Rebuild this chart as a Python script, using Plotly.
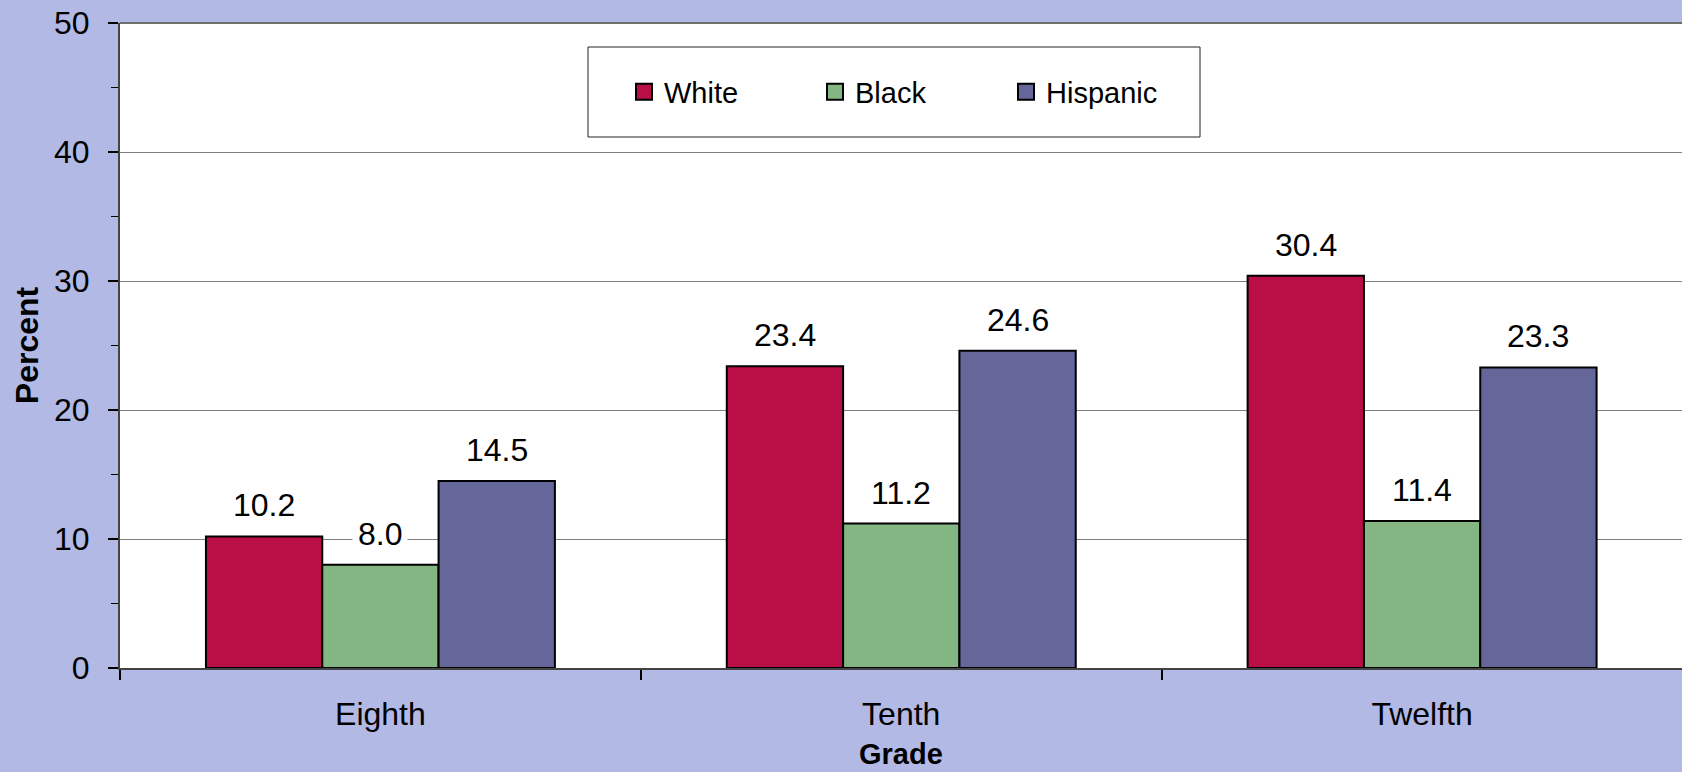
import plotly.graph_objects as go

grades = ["Eighth", "Tenth", "Twelfth"]
white = [10.2, 23.4, 30.4]
black = [8.0, 11.2, 11.4]
hispanic = [14.5, 24.6, 23.3]
series_names = ["White", "Black", "Hispanic"]
series_values = [white, black, hispanic]
series_colors = ["#B90E46", "#84B683", "#656699"]
y_ticks = [0, 10, 20, 30, 40, 50]
x_title = "Grade"
y_title = "Percent"

FONT = "Liberation Sans, Arial, sans-serif"
FS = 32
BG = "#B3B9E5"
BARGAP = 0.33

fig = go.Figure()
for name, vals, col in zip(series_names, series_values, series_colors):
    fig.add_trace(go.Bar(
        x=grades, y=vals, name=name, showlegend=False,
        marker=dict(color=col, line=dict(color="#000000", width=2)),
        hoverinfo="x+y+name",
    ))
# legend entries (larger square swatches)
for name, col in zip(series_names, series_colors):
    fig.add_trace(go.Scatter(
        x=[None], y=[None], name=name, mode="markers",
        marker=dict(symbol="square", size=16, color=col, line=dict(color="#000000", width=2)),
    ))

n = len(series_names)
bw = (1 - BARGAP) / n
annotations = []
for si, vals in enumerate(series_values):
    off = (si - (n - 1) / 2) * bw
    for ci, v in enumerate(vals):
        annotations.append(dict(
            x=ci + off, y=v, xref="x", yref="y",
            text=f"{v:.1f}", showarrow=False,
            yanchor="bottom", yshift=7,
            bgcolor="white", borderpad=5,
            font=dict(family=FONT, size=FS, color="black"),
        ))
# x-axis title
annotations.append(dict(
    x=0.5, y=0, xref="paper", yref="paper", yshift=-103,
    text=f"<b>{x_title}</b>", showarrow=False,
    xanchor="center", yanchor="bottom", borderpad=0,
    font=dict(family=FONT, size=29, color="black"),
))

fig.update_layout(
    width=1682, height=772,
    margin=dict(l=120, r=0, t=23, b=104, autoexpand=False),
    paper_bgcolor=BG, plot_bgcolor="white",
    barmode="group", bargap=BARGAP, bargroupgap=0,
    font=dict(family=FONT, size=FS, color="black"),
    annotations=annotations,
    shapes=[
        dict(type="rect", xref="paper", yref="paper",
             x0=(588 - 120) / 1562, x1=(1200 - 120) / 1562,
             y0=(668 - 137) / 645, y1=(668 - 47) / 645,
             fillcolor="white", line=dict(color="#222222", width=1), layer="above"),
        dict(type="line", xref="paper", yref="paper", x0=0, x1=1, y0=1, y1=1,
             line=dict(color="#6E6E6E", width=2), layer="above"),
    ],
    legend=dict(
        orientation="h", x=(624 - 120) / 1562, xanchor="left",
        y=(668 - 92) / 645, yanchor="middle",
        bgcolor="rgba(0,0,0,0)", borderwidth=0,
        font=dict(family=FONT, size=29, color="black"),
        entrywidth=146, entrywidthmode="pixels",
        traceorder="normal", itemwidth=30,
    ),
    showlegend=True,
)

fig.update_xaxes(
    range=[-0.5, 2.499], automargin=False,
    showline=True, linecolor="#444444", linewidth=2,
    ticks="outside", tickson="boundaries", ticklen=10, tickcolor="#000000", tickwidth=2,
    showgrid=False,
    tickfont=dict(family=FONT, size=FS, color="black"),
    ticklabelstandoff=17,
)
fig.update_yaxes(
    range=[0, 50], tickvals=y_ticks, automargin=False,
    showline=True, linecolor="#444444", linewidth=2,
    ticks="outside", ticklen=10, tickcolor="#000000", tickwidth=2,
    minor=dict(dtick=5, ticks="outside", ticklen=7, tickcolor="#000000", tickwidth=1, showgrid=False),
    showgrid=True, gridcolor="#808080", gridwidth=1,
    zeroline=False,
    tickfont=dict(family=FONT, size=FS, color="black"),
    ticklabelstandoff=12,
    title=dict(text=f"<b>{y_title}</b>", font=dict(family=FONT, size=FS, color="black"), standoff=6),
)

fig.write_html("out.html")
